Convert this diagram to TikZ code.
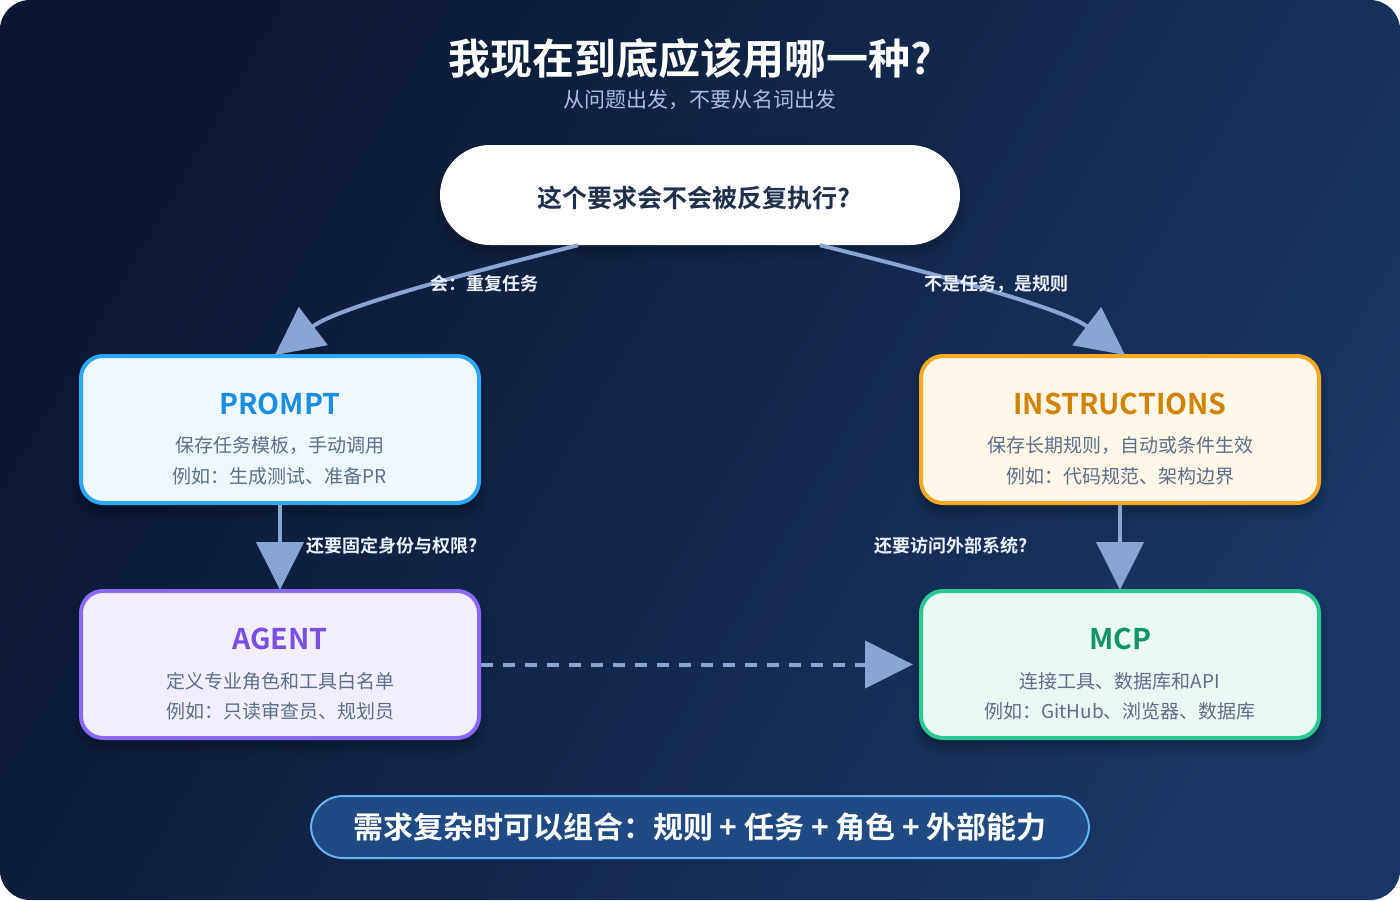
\documentclass[tikz,border=0pt]{standalone}
\usepackage{fontspec}
\setmainfont{Noto Sans CJK SC}
\newfontfamily\cjkb{Noto Sans CJK SC Bold}
\newfontfamily\cjkr{Noto Sans CJK SC}
\usetikzlibrary{arrows.meta,shadows.blur}
\definecolor{bgA}{HTML}{0A1834}
\definecolor{bgB}{HTML}{183764}
\definecolor{arrowc}{HTML}{88A6D4}
\definecolor{labc}{HTML}{EAF1FC}
\definecolor{subc}{HTML}{A9BEE2}
\definecolor{qtext}{HTML}{1F2F4C}
\definecolor{bodyc}{HTML}{5B6F8A}
\definecolor{pBorder}{HTML}{2AA6F6}\definecolor{pFill}{HTML}{F0F8FF}\definecolor{pTitle}{HTML}{1A8EE0}
\definecolor{iBorder}{HTML}{F7A823}\definecolor{iFill}{HTML}{FFF7E8}\definecolor{iTitle}{HTML}{D08300}
\definecolor{aBorder}{HTML}{8C68F6}\definecolor{aFill}{HTML}{F3EEFF}\definecolor{aTitle}{HTML}{7A4EE2}
\definecolor{mBorder}{HTML}{2CC894}\definecolor{mFill}{HTML}{E8FAF3}\definecolor{mTitle}{HTML}{0E9466}
\definecolor{banFill}{HTML}{1F4A82}\definecolor{banBorder}{HTML}{66B2F2}
\tikzset{
  card/.style={draw, line width=4pt, rounded corners=22pt, minimum width=398pt, minimum height=147pt,
    blur shadow={shadow xshift=0pt, shadow yshift=-8pt, shadow opacity=35, shadow blur steps=8, shadow blur radius=10pt}},
  ctitle/.style={font=\cjkb\fontsize{28.5}{30}\selectfont},
  cbody/.style={font=\cjkr\fontsize{19}{22}\selectfont, text=bodyc},
  lab/.style={font=\cjkb\fontsize{18}{20}\selectfont, text=labc},
  conn/.style={draw=arrowc, line width=4pt, -{Triangle[length=48pt,width=47pt]}},
}
\begin{document}
\begin{tikzpicture}[x=1pt,y=-1pt]
\useasboundingbox (0,0) rectangle (1400,900);
\fill[white] (0,0) rectangle (1400,900);
\shade[rounded corners=30pt, left color=bgA, right color=bgB, shading angle=60] (0,0) rectangle (1400,900);

% title
\node[font=\cjkb\fontsize{42}{44}\selectfont, text=white] (title) at (690,58) {我现在到底应该用哪一种?};
\node[font=\cjkr\fontsize{21}{24}\selectfont, text=subc] (sub) at (700,100) {从问题出发，不要从名词出发};

% question pill
\node[fill=white, rounded corners=50pt, minimum width=520pt, minimum height=100pt,
  blur shadow={shadow xshift=0pt, shadow yshift=-6pt, shadow opacity=30, shadow blur steps=8, shadow blur radius=10pt}] (q) at (700,195) {};
\node[font=\cjkb\fontsize{25}{28}\selectfont, text=qtext] (qt) at (694,198) {这个要求会不会被反复执行?};

% cards
\node[card, draw=pBorder, fill=pFill] (p) at (280,429.5) {};
\node[ctitle, text=pTitle] (pt) at (280,404) {PROMPT};
\node[cbody] (pb1) at (280,446) {保存任务模板，手动调用};
\node[cbody] (pb2) at (280,476) {例如：生成测试、准备PR};

\node[card, draw=iBorder, fill=iFill] (i) at (1120,429.5) {};
\node[ctitle, text=iTitle] (it) at (1120,404) {INSTRUCTIONS};
\node[cbody] (ib1) at (1120,446) {保存长期规则，自动或条件生效};
\node[cbody] (ib2) at (1120,476) {例如：代码规范、架构边界};

\node[card, draw=aBorder, fill=aFill] (a) at (280,664.5) {};
\node[ctitle, text=aTitle] (at) at (280,639) {AGENT};
\node[cbody] (ab1) at (280,681) {定义专业角色和工具白名单};
\node[cbody] (ab2) at (280,711) {例如：只读审查员、规划员};

\node[card, draw=mBorder, fill=mFill] (m) at (1120,664.5) {};
\node[ctitle, text=mTitle] (mt) at (1120,639) {MCP};
\node[cbody] (mb1) at (1120,681) {连接工具、数据库和API};
\node[cbody] (mb2) at (1120,711) {例如：GitHub、浏览器、数据库};

% connectors
\draw[conn] ([xshift=-122pt]q.south) .. controls (500,265) and (341,305) .. ([xshift=-5pt,yshift=-1pt]p.north);
\draw[conn] ([xshift=120pt]q.south) .. controls (900,265) and (1060,306) .. ([xshift=5pt,yshift=-1pt]i.north);
\draw[conn] (p.south) -- ([yshift=-1pt]a.north);
\draw[conn] (i.south) -- ([yshift=-1pt]m.north);
\draw[conn, dash pattern=on 12pt off 10pt] (a.east) -- ([xshift=-6pt]m.west);

% labels
\node[lab] (l1) at (484,284) {会：重复任务};
\node[lab] (l2) at (996,284) {不是任务，是规则};
\node[lab, anchor=west] (l3) at (303,546) {还要固定身份与权限?};
\node[lab, anchor=east] (l4) at (1031,546) {还要访问外部系统?};

% banner
\node[draw=banBorder, line width=2pt, fill=banFill, rounded corners=32pt, minimum width=778pt, minimum height=62pt] (ban) at (700,827) {};
\node[font=\cjkb\fontsize{30}{32}\selectfont, text=white] (bant) at (700,827) {需求复杂时可以组合：规则 + 任务 + 角色 + 外部能力};
\end{tikzpicture}
\end{document}
